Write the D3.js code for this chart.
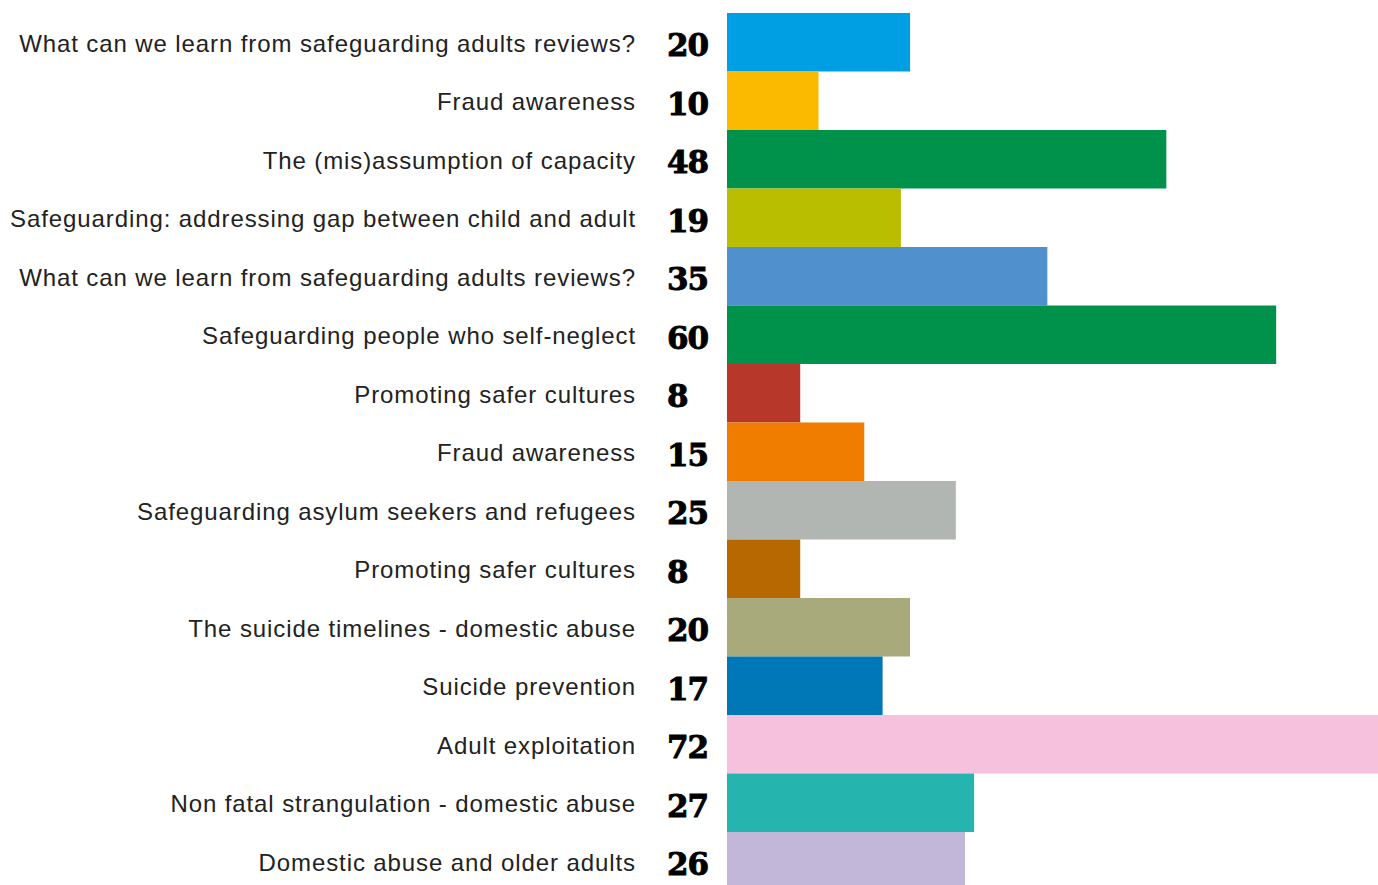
<!DOCTYPE html>
<html>
<head>
<meta charset="utf-8">
<script src="https://cdn.jsdelivr.net/npm/d3@7"></script>
<style>
  html, body { margin: 0; padding: 0; background: #fff; overflow: hidden; }
</style>
</head>
<body>
<svg id="chart"></svg>
<script>
var categories = [
    "What can we learn from safeguarding adults reviews?",
    "Fraud awareness",
    "The (mis)assumption of capacity",
    "Safeguarding: addressing gap between child and adult",
    "What can we learn from safeguarding adults reviews?",
    "Safeguarding people who self-neglect",
    "Promoting safer cultures",
    "Fraud awareness",
    "Safeguarding asylum seekers and refugees",
    "Promoting safer cultures",
    "The suicide timelines - domestic abuse",
    "Suicide prevention",
    "Adult exploitation",
    "Non fatal strangulation - domestic abuse",
    "Domestic abuse and older adults"
];
var values = [20, 10, 48, 19, 35, 60, 8, 15, 25, 8, 20, 17, 72, 27, 26];
var colors = [
    "#009fe3", "#fbb900", "#00914a", "#b9bf00", "#5090cd",
    "#00914a", "#b7372a", "#f07d00", "#b1b6b3", "#b86800",
    "#a9aa7c", "#0077b6", "#f5c1dc", "#25b4ae", "#c3b7d9"
];

var width = 1378, height = 885;
var labelX = 636, numX = 667, barX = 727;
var rowH = 58.5, topY = 13;

var svg = d3.select("#chart")
    .attr("width", width)
    .attr("height", height);

var x = d3.scaleLinear()
    .domain([0, d3.max(values)])
    .range([barX, barX + 659]);

var y = d3.scaleBand()
    .domain(d3.range(categories.length))
    .range([topY, topY + rowH * categories.length])
    .padding(0);

svg.append("g")
    .selectAll("rect")
    .data(values)
    .join("rect")
    .attr("x", x(0))
    .attr("y", (d, i) => y(i))
    .attr("width", d => x(d) - x(0))
    .attr("height", y.bandwidth())
    .attr("fill", (d, i) => colors[i]);

svg.append("g")
    .selectAll("text")
    .data(categories)
    .join("text")
    .attr("x", labelX)
    .attr("y", (d, i) => y(i) + y.bandwidth() / 2 + 1)
    .attr("dy", "0.35em")
    .attr("text-anchor", "end")
    .style("font-family", "'Liberation Sans', Arial, sans-serif")
    .style("font-size", "24px")
    .style("letter-spacing", "0.9px")
    .style("fill", "#222")
    .text(d => d);

// numbers: heavy slab serif look
svg.append("g")
    .selectAll("text")
    .data(values)
    .join("text")
    .attr("x", numX)
    .attr("y", (d, i) => y(i) + y.bandwidth() / 2 + 3)
    .attr("dy", "0.35em")
    .style("font-family", "'DejaVu Serif', serif")
    .style("font-weight", "bold")
    .style("font-size", "31px")
    .style("fill", "#000")
    .style("stroke", "#000")
    .style("stroke-width", "0.9px")
    .style("letter-spacing", "-1px")
    .text(d => d);
</script>
</body>
</html>
